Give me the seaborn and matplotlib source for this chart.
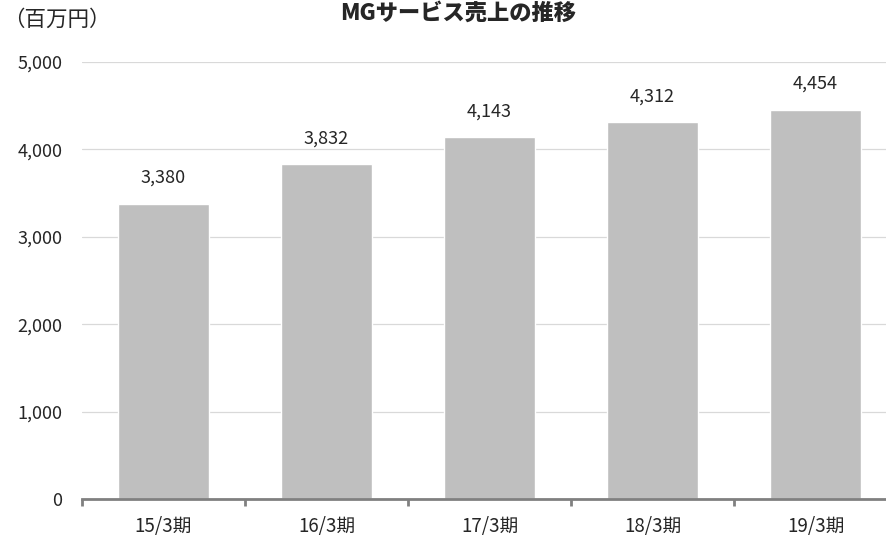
import pandas as pd
import matplotlib
matplotlib.use('Agg')
import matplotlib.pyplot as plt
import seaborn as sns
from matplotlib.ticker import FuncFormatter, FixedLocator

# データ
periods = ['15/3期', '16/3期', '17/3期', '18/3期', '19/3期']
sales = [3380, 3832, 4143, 4312, 4454]

df = pd.DataFrame({'期': periods, '売上': sales})

sns.set_style('white')
plt.rcParams['font.family'] = ['Noto Sans CJK JP', 'DejaVu Sans']

fig = plt.figure(figsize=(8.86, 5.38), dpi=100)
# 右端は画像の外まではみ出す（元画像と同じ切れ方）
ax = fig.add_axes([0.0926, 0.0725, 0.9199, 0.8123])

sns.barplot(data=df, x='期', y='売上', color='#BFBFBF', width=0.56,
            saturation=1, ax=ax, zorder=2)

ax.set_ylim(0, 5000)
ax.set_xlim(-0.5, 4.5)
ax.set_yticks(range(0, 5001, 1000))
ax.yaxis.set_major_formatter(FuncFormatter(lambda v, p: f'{int(v):,}'))
ax.grid(axis='y', color='#D9D9D9', linewidth=0.9, zorder=0)
ax.set_axisbelow(True)

for s in ['top', 'right', 'left']:
    ax.spines[s].set_visible(False)
ax.spines['bottom'].set_color('#808080')
ax.spines['bottom'].set_linewidth(2)

# x軸の目盛り（区切り位置）
ax.xaxis.set_minor_locator(FixedLocator([-0.5, 0.5, 1.5, 2.5, 3.5, 4.5]))
ax.tick_params(axis='x', which='minor', length=5, width=2, color='#808080', bottom=True)
ax.tick_params(axis='x', which='major', length=0, pad=12, labelsize=13.5)
ax.tick_params(axis='y', length=0, pad=14, labelsize=13)

for c in ax.containers:
    ax.bar_label(c, labels=[f'{v:,}' for v in sales], padding=12, fontsize=13)

ax.set_xlabel('')
ax.set_ylabel('')

fig.text(0.003, 0.963, '（百万円）', fontsize=15.5, ha='left', va='center')
fig.text(0.517, 0.975, 'MGサービス売上の推移', fontsize=16, fontweight='heavy',
         ha='center', va='center')

fig.savefig('out.png', dpi=100)
